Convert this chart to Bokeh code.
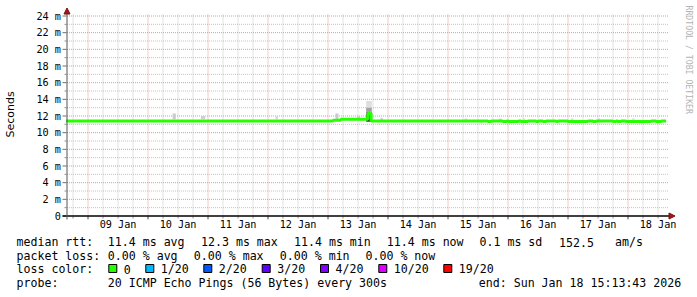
import math
import pandas as pd
from bokeh.plotting import figure
from bokeh.models import Range1d
from bokeh.core.properties import value
from bokeh.embed import file_html
from bokeh.resources import INLINE

# ---------------- data ----------------
start_str = "2026-01-08 15:13:43"
end_str = "2026-01-18 15:13:43"

x_tick_days = ["2026-01-09", "2026-01-10", "2026-01-11", "2026-01-12", "2026-01-13",
               "2026-01-14", "2026-01-15", "2026-01-16", "2026-01-17", "2026-01-18"]
x_tick_labels = ["09 Jan", "10 Jan", "11 Jan", "12 Jan", "13 Jan",
                 "14 Jan", "15 Jan", "16 Jan", "17 Jan", "18 Jan"]

y_ticks = [0, 2, 4, 6, 8, 10, 12, 14, 16, 18, 20, 22, 24]
y_tick_labels = ["0", "2 m", "4 m", "6 m", "8 m", "10 m", "12 m", "14 m",
                 "16 m", "18 m", "20 m", "22 m", "24 m"]
y_minor = [1, 3, 5, 7, 9, 11, 13, 15, 17, 19, 21, 23]

# median rtt (ms), step series (value holds until next time)
med_t = ["2026-01-08 15:13:43", "2026-01-13 02:00", "2026-01-13 05:05", "2026-01-13 15:55",
         "2026-01-13 17:15", "2026-01-15 15:55", "2026-01-15 17:15", "2026-01-15 21:55",
         "2026-01-15 23:30", "2026-01-16 00:10", "2026-01-16 04:10", "2026-01-16 05:15",
         "2026-01-16 07:55", "2026-01-16 11:15", "2026-01-16 12:10", "2026-01-16 13:55",
         "2026-01-16 15:15", "2026-01-16 19:15", "2026-01-16 19:55", "2026-01-16 23:55",
         "2026-01-17 07:55", "2026-01-17 09:55", "2026-01-17 11:15", "2026-01-17 17:55",
         "2026-01-17 19:15", "2026-01-17 19:55", "2026-01-17 21:15", "2026-01-17 23:15",
         "2026-01-18 09:15", "2026-01-18 11:15", "2026-01-18 13:15", "2026-01-18 15:13:43"]
med_v = [11.4, 11.5, 11.6, 12.3, 11.4, 11.35, 11.4, 11.35, 11.4, 11.35, 11.4, 11.35, 11.4,
         11.35, 11.4, 11.35, 11.4, 11.35, 11.4, 11.35, 11.4, 11.35, 11.4, 11.35, 11.4, 11.35,
         11.4, 11.35, 11.4, 11.35, 11.4, 11.4]

# smoke (ping spread) blocks
sm_start = ["2026-01-10 09:50", "2026-01-10 21:10", "2026-01-12 03:00", "2026-01-13 03:00",
            "2026-01-13 11:40", "2026-01-13 15:15", "2026-01-13 15:15", "2026-01-13 15:15",
            "2026-01-13 15:15", "2026-01-13 21:00", "2026-01-15 06:40", "2026-01-15 20:20",
            "2026-01-16 05:50", "2026-01-17 01:10", "2026-01-17 11:50", "2026-01-18 01:40"]
sm_end = ["2026-01-10 11:05", "2026-01-10 22:50", "2026-01-12 04:00", "2026-01-13 04:10",
          "2026-01-13 12:50", "2026-01-13 17:30", "2026-01-13 17:30", "2026-01-13 17:30",
          "2026-01-13 17:30", "2026-01-13 22:00", "2026-01-15 07:40", "2026-01-15 21:20",
          "2026-01-16 06:50", "2026-01-17 02:10", "2026-01-17 12:50", "2026-01-18 02:40"]
sm_lo = [11.6, 11.6, 11.6, 11.6, 11.7, 13.0, 12.5, 12.2, 11.3, 11.5, 11.5, 11.5, 11.5, 11.5, 11.5, 11.5]
sm_hi = [12.3, 12.0, 12.0, 12.3, 12.0, 13.8, 13.0, 12.5, 12.2, 11.8, 11.7, 11.7, 11.7, 11.7, 11.7, 11.7]
sm_density = [0.15, 0.12, 0.08, 0.15, 0.12, 0.05, 0.35, 0.55, 0.85, 0.1, 0.08, 0.08, 0.08, 0.08, 0.08, 0.08]

legend_rtt = ["11.4 ms avg", "12.3 ms max", "11.4 ms min", "11.4 ms now", "0.1 ms sd", "152.5", "am/s"]
legend_loss = ["0.00 % avg", "0.00 % max", "0.00 % min", "0.00 % now"]
loss_names = ["0", "1/20", "2/20", "3/20", "4/20", "10/20", "19/20"]
loss_colors = ["#26ff00", "#00b8ff", "#0059ff", "#5e00ff", "#7e00ff", "#dd00ff", "#ff0000"]
probe_text = "20 ICMP Echo Pings (56 Bytes) every 300s"
end_text = "end: Sun Jan 18 15:13:43 2026"


def ms(s):
    return pd.Timestamp(s).value / 1e6


HOUR = 3600e3
t0, t1 = ms(start_str), ms(end_str)

x_ticks = [ms(d) + 12 * HOUR for d in x_tick_days]
x_midnights = [ms(d) for d in x_tick_days]
x_six = []
t = ms("2026-01-08 18:00")
while t < t1:
    x_six.append(t)
    t += 6 * HOUR
x_six_minor = [v for v in x_six if v not in x_midnights]

# ---------------- pixel helpers (frame = whole canvas) ----------------
W, H = 697, 297
FL, FR, FT, FB = 65.6, 665.6, 15.5, 215.5   # plot area in pixels


def px_x(px):
    return t0 + (px - FL) * (t1 - t0) / (FR - FL)


def px_y(py):
    return (FB - py) * 24.0 / (FB - FT)


MONO = "DejaVu Sans Mono"

p = figure(width=W, height=H, x_range=Range1d(px_x(0), px_x(W)),
           y_range=Range1d(px_y(H), px_y(0)),
           x_axis_location=None, y_axis_location=None,
           output_backend="svg", toolbar_location=None, title=None,
           min_border=0, min_border_left=0, min_border_right=0,
           min_border_top=0, min_border_bottom=0,
           background_fill_color="white", border_fill_color="white")
p.outline_line_color = None
p.xgrid.visible = False
p.ygrid.visible = False

GRID_MAJ = "#e09a9a"
GRID_MIN = "#c4c4c4"
DASH = "1 1"
x_grid_start = px_x(66.5)
x_grid_end = px_x(668.5)

# minor grid
p.segment(x0=x_six_minor, y0=[px_y(215)] * len(x_six_minor), x1=x_six_minor,
          y1=[px_y(14)] * len(x_six_minor),
          line_color=GRID_MIN, line_dash=DASH, line_width=1)
p.segment(x0=[x_grid_start] * len(y_minor), y0=y_minor, x1=[x_grid_end] * len(y_minor), y1=y_minor,
          line_color=GRID_MIN, line_dash=DASH, line_width=1)
# major grid
p.segment(x0=x_midnights, y0=[px_y(215)] * len(x_midnights), x1=x_midnights,
          y1=[px_y(14)] * len(x_midnights),
          line_color=GRID_MAJ, line_dash=DASH, line_width=1)
yg = y_ticks[1:]
p.segment(x0=[x_grid_start] * len(yg), y0=yg, x1=[x_grid_end] * len(yg), y1=yg,
          line_color=GRID_MAJ, line_dash=DASH, line_width=1)

# smoke
sm_colors = []
for d in sm_density:
    g = int(round(232 - 200 * d))
    sm_colors.append("#%02x%02x%02x" % (g, g, g))
p.quad(left=[ms(s) for s in sm_start], right=[ms(s) for s in sm_end],
       bottom=sm_lo, top=sm_hi, fill_color=sm_colors, line_color=None)

# median line
p.step(x=[ms(s) for s in med_t], y=med_v, mode="after",
       line_color=loss_colors[0], line_width=3)

# tick marks
ny, nym = len(y_ticks), len(y_minor)
p.segment(x0=[px_x(62)] * ny, y0=y_ticks, x1=[px_x(66)] * ny, y1=y_ticks,
          line_color="#707070", line_width=1)
p.segment(x0=[px_x(64)] * nym, y0=y_minor, x1=[px_x(66)] * nym, y1=y_minor,
          line_color="#909090", line_width=1)
p.segment(x0=x_six, y0=[px_y(216)] * len(x_six), x1=x_six, y1=[px_y(218)] * len(x_six),
          line_color="#909090", line_width=1)
p.segment(x0=x_midnights, y0=[px_y(216)] * len(x_midnights), x1=x_midnights,
          y1=[px_y(219)] * len(x_midnights), line_color="#707070", line_width=1)

# axis lines + arrow heads
p.segment(x0=[px_x(62)], y0=[0], x1=[px_x(670)], y1=[0], line_color="#000000", line_width=1.3)
p.segment(x0=[px_x(66.5)], y0=[px_y(219)], x1=[px_x(66.5)], y1=[px_y(12)],
          line_color="#555555", line_width=1)
p.patch(x=[px_x(668.5), px_x(668.5), px_x(674.5)], y=[px_y(212.5), px_y(218.5), px_y(215.5)],
        fill_color="#a01818", line_color="#7a1010", line_width=1)
p.patch(x=[px_x(63.5), px_x(69.5), px_x(66.5)], y=[px_y(13.5), px_y(13.5), px_y(7.5)],
        fill_color="#a01818", line_color="#7a1010", line_width=1)

# tick labels
p.text(x=[px_x(60.5)] * ny, y=y_ticks, text=y_tick_labels, text_align="right",
       text_baseline="middle", text_font=value(MONO), text_font_size=value("10.2px"),
       text_color="#000000")
p.text(x=x_ticks, y=[px_y(224)] * len(x_ticks), text=x_tick_labels, text_align="center",
       text_baseline="middle", text_font=value(MONO), text_font_size=value("10.2px"),
       text_color="#000000")

# y title + watermark
p.text(x=[px_x(10)], y=[px_y(114)], text=["Seconds"], angle=math.pi / 2,
       text_align="center", text_baseline="middle",
       text_font=value("DejaVu Sans"), text_font_size=value("11px"), text_color="#000000")
p.text(x=[px_x(688)], y=[px_y(5)], text=["RRDTOOL / TOBI OETIKER"], angle=-math.pi / 2,
       text_align="left", text_baseline="middle",
       text_font=value(MONO), text_font_size=value("8.2px"), text_color="#b4b4b4")

# legend
rows = [241.5, 255.2, 268.9, 282.6]
lx, ly, lt = [], [], []


def add(px, py, txt):
    lx.append(px_x(px))
    ly.append(px_y(py))
    lt.append(txt)


add(16, rows[0], "median rtt:")
for x, s in zip([107.3, 200.5, 293.5, 386.3, 479.0, 558.5, 614.5], legend_rtt):
    add(x, rows[0], s)
add(16, rows[1], "packet loss:")
for x, s in zip([107.3, 193.3, 279.3, 365.0], legend_loss):
    add(x, rows[1], s)
add(16, rows[2], "loss color:")
sq_pos = [108.3, 145.3, 203.3, 261.7, 320.0, 378.3, 443.3]
for x, name in zip(sq_pos, loss_names):
    add(x + 15, rows[2], name)
add(16, rows[3], "probe:")
add(107.3, rows[3], probe_text)
add(478.3, rows[3], end_text)

p.text(x=lx, y=ly, text=lt, text_align="left", text_baseline="middle",
       text_font=value(MONO), text_font_size=value("11.6px"), text_color="#000000")
p.quad(left=[px_x(x) for x in sq_pos], right=[px_x(x + 8) for x in sq_pos],
       top=[px_y(264)] * len(sq_pos), bottom=[px_y(272)] * len(sq_pos),
       fill_color=loss_colors, line_color="#000000", line_width=1)

open("out.html", "w").write(file_html(p, INLINE))
